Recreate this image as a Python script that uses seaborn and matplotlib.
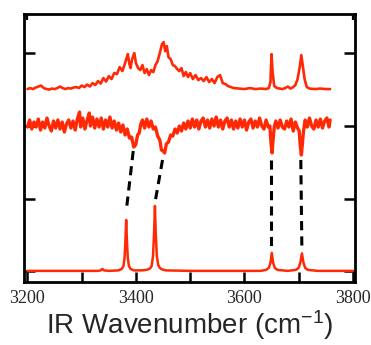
import matplotlib
matplotlib.use("Agg")
import matplotlib.pyplot as plt
import seaborn as sns
import pandas as pd

# ---------------- data (y in arbitrary offset units) -------------
top_wn = [3200, 3205, 3210, 3215, 3220, 3225, 3230, 3235, 3240, 3245, 3250, 3255, 3260, 3265,
          3270, 3275, 3280, 3285, 3290, 3295, 3300, 3305, 3310, 3315, 3320, 3325, 3330, 3335,
          3340, 3345, 3350, 3355, 3360, 3365, 3370, 3375, 3380, 3385, 3388, 3390, 3393, 3397,
          3400, 3404, 3408, 3412, 3416, 3420, 3424, 3428, 3432, 3436, 3440, 3444, 3448, 3451,
          3454, 3457, 3460, 3464, 3468, 3472, 3476, 3480, 3484, 3488, 3492, 3496, 3500, 3505,
          3510, 3515, 3520, 3525, 3530, 3535, 3540, 3545, 3550, 3555, 3560, 3565, 3570, 3575,
          3580, 3590, 3600, 3610, 3620, 3630, 3640, 3645, 3648, 3650, 3652, 3655, 3660, 3670,
          3675, 3680, 3685, 3690, 3694, 3698, 3702, 3705, 3708, 3711, 3715, 3720, 3730, 3740,
          3750, 3758]
top_y = [193, 194, 193, 194.5, 195.5, 196.5, 194, 193, 192.5, 193.5, 193, 194, 195.5, 194,
         193, 194, 193.5, 194.5, 195, 194, 196.5, 195, 197.5, 195.5, 199, 197, 201, 198.5,
         204, 200.5, 206, 203, 209, 208, 215, 211, 219, 228, 218, 214, 223, 229,
         219, 214, 212, 217, 209, 213, 207, 212, 210, 217, 221, 229, 238, 240,
         231, 236, 225, 223, 217, 216, 213, 211, 214, 206, 210, 205, 209, 203,
         207, 202, 204, 201, 205, 200, 203, 199, 205, 207, 199, 198, 196, 195,
         194, 193.5, 193, 194, 193, 193.5, 193, 194, 200, 228, 210, 196, 194, 193,
         194, 195.5, 193.5, 195, 197, 203, 215, 227, 215, 203, 195, 193.5, 193, 193.5,
         193, 193]

mid_wn = [3200, 3204, 3208, 3212, 3216, 3220, 3224, 3228, 3232, 3236, 3240, 3244, 3248, 3252,
          3256, 3260, 3264, 3268, 3272, 3276, 3280, 3284, 3288, 3292, 3296, 3298, 3302, 3306,
          3310, 3314, 3316, 3320, 3324, 3328, 3332, 3336, 3340, 3344, 3348, 3352, 3356, 3360,
          3364, 3368, 3372, 3376, 3380, 3384, 3388, 3392, 3396, 3398, 3400, 3403, 3406, 3409,
          3412, 3416, 3420, 3424, 3428, 3432, 3436, 3440, 3444, 3447, 3450, 3453, 3456, 3460,
          3464, 3468, 3472, 3476, 3480, 3484, 3488, 3492, 3496, 3500, 3504, 3508, 3512, 3516,
          3520, 3524, 3528, 3532, 3536, 3540, 3544, 3548, 3552, 3556, 3560, 3564, 3568, 3572,
          3576, 3580, 3584, 3588, 3592, 3596, 3600, 3604, 3608, 3612, 3616, 3620, 3624, 3628,
          3632, 3636, 3640, 3644, 3647, 3649, 3651, 3653, 3655, 3658, 3662, 3666, 3670, 3674,
          3678, 3682, 3686, 3690, 3694, 3698, 3701, 3703, 3705, 3707, 3709, 3712, 3716, 3720,
          3724, 3728, 3732, 3736, 3740, 3744, 3748, 3752, 3756, 3758]
mid_y = [155, 162, 153, 160, 155, 163, 152, 160, 154, 164, 156, 151, 161, 154,
         162, 153, 160, 150, 158, 162, 154, 161, 152, 163, 170, 155, 164, 153,
         162, 169, 156, 165, 154, 163, 155, 164, 153, 162, 155, 165, 154, 161,
         152, 159, 150, 157, 147, 153, 144, 145, 135, 136, 138, 147, 149, 158,
         162, 154, 163, 155, 161, 153, 155, 146, 142, 132, 131, 129, 138, 140,
         147, 146, 153, 149, 156, 151, 159, 153, 161, 154, 163, 155, 162, 153,
         161, 164, 155, 162, 154, 163, 156, 165, 155, 162, 153, 161, 164, 155,
         162, 153, 161, 154, 163, 155, 162, 152, 160, 163, 154, 161, 155, 164,
         156, 153, 162, 155, 156, 139, 129, 143, 155, 161, 154, 162, 155, 153,
         161, 155, 163, 151, 160, 154, 151, 136, 127, 139, 151, 162, 155, 164,
         156, 153, 162, 155, 163, 154, 161, 164, 155, 162]

calc_wn = [3200, 3330, 3335, 3338, 3341, 3350, 3368, 3374, 3377, 3379, 3380.5, 3382, 3383.5,
           3385, 3387, 3390, 3396, 3410, 3420, 3426, 3429, 3431.5, 3433.5, 3435, 3436.5,
           3438.5, 3441, 3444, 3448, 3455, 3500, 3630, 3640, 3645, 3648, 3650.5, 3653, 3656,
           3661, 3680, 3695, 3700, 3703, 3706, 3709, 3712, 3717, 3735, 3800]
calc_y = [11, 11, 11.5, 13, 11.5, 11, 11.5, 13, 16, 24, 40, 62, 40,
          24, 16, 13, 11.5, 11.5, 12, 13.5, 16, 26, 50, 76, 50,
          26, 17, 14, 12.5, 11.5, 11, 11, 12, 14, 19, 29, 19, 14,
          12, 11, 12, 14, 19, 28.5, 19, 14, 12, 11, 11]

# correlation guides (experiment dip -> calculated peak)
guide_x0 = [3395, 3449, 3649, 3704]
guide_y0 = [131, 122, 122, 122]
guide_x1 = [3383, 3436, 3649, 3706]
guide_y1 = [75, 82, 32, 32]

xticks_major = [3200, 3300, 3400, 3500, 3600, 3700, 3800]
xtick_labels = ["3200", "", "3400", "", "3600", "", "3800"]
top_ticks = [3200, 3800]
yticks = [10.6, 83.3, 156, 228.7]

RED = "#ff2a05"

# ---------------- figure --------------------------------------------------------------
sns.set_style("ticks")
plt.rcParams["mathtext.default"] = "regular"
fig = plt.figure(figsize=(3.71, 3.45), dpi=100)
ax = fig.add_axes([0.066, 0.183, 0.891, 0.776])

for wn, yy, lw in [(top_wn, top_y, 1.9), (mid_wn, mid_y, 2.4), (calc_wn, calc_y, 1.8)]:
    df = pd.DataFrame({"wn": wn, "y": yy})
    sns.lineplot(data=df, x="wn", y="y", ax=ax, color=RED, lw=lw, sort=False,
                 estimator=None, zorder=3)

for x0, y0, x1, y1 in zip(guide_x0, guide_y0, guide_x1, guide_y1):
    ax.plot([x0, x1], [y0, y1], color="black", lw=2.2, dashes=(3, 2), zorder=2)

ax.set_xlim(3194.5, 3804)
ax.set_ylim(0, 268)

# top axis: ticks only at the ends
axt = ax.twiny()
axt.set_xlim(ax.get_xlim())
axt.set_xticks(top_ticks)
axt.set_xticklabels([])
axt.tick_params(axis="x", direction="in", length=4, width=1.6, color="black",
                top=True, bottom=False)
for s in axt.spines.values():
    s.set_visible(False)
axt.set_yticks([])

ax.xaxis.set_ticks_position("bottom")
ax.set_xticks(xticks_major)
ax.set_xticklabels(xtick_labels, fontfamily="Liberation Serif", fontsize=13)
ax.set_yticks(yticks)
ax.set_yticklabels([])
ax.tick_params(axis="x", direction="in", length=7, width=1.8, pad=6, bottom=True,
               top=False, color="black")
ax.tick_params(axis="y", direction="in", length=8, width=1.8, left=True, right=True,
               color="black")

for s in ax.spines.values():
    s.set_linewidth(2.0)
    s.set_color("black")

ax.set_xlabel("IR Wavenumber (cm$^{-1}$)", fontfamily="Liberation Sans", fontsize=20,
              labelpad=1)
ax.set_ylabel("")

fig.savefig("out.png", dpi=100)
